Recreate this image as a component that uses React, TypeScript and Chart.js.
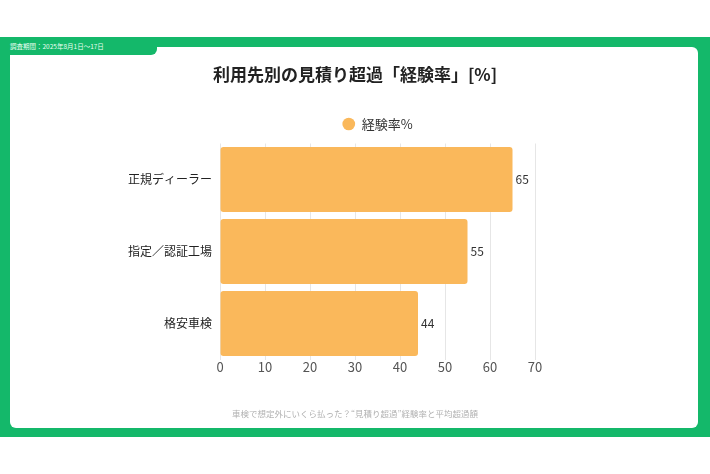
import React, { useEffect, useRef } from "react";
import { Chart, registerables } from "chart.js";

Chart.register(...registerables);

const categories = ["正規ディーラー", "指定／認証工場", "格安車検"];
const experienceRate = [65, 55, 44];
const seriesLabel = "経験率%";
const titleText = "利用先別の見積り超過「経験率」[%]";
const footnoteText = "車検で想定外にいくら払った？“見積り超過”経験率と平均超過額";
const periodText = "調査期間：2025年8月1日〜17日";
const xMin = 0;
const xMax = 70;
const xStep = 10;

const FONT = "'Noto Sans CJK JP', 'Noto Sans', sans-serif";
const GREEN = "#14b86a";
const BAR = "#fab85b";

const valueLabels = {
  id: "valueLabels",
  afterDatasetsDraw(chart: any) {
    const ctx = chart.ctx;
    const meta = chart.getDatasetMeta(0);
    ctx.save();
    ctx.font = `12px ${FONT}`;
    ctx.fillStyle = "#333";
    ctx.textAlign = "left";
    ctx.textBaseline = "middle";
    meta.data.forEach((el: any, i: number) => {
      const v = chart.data.datasets[0].data[i];
      ctx.fillText(String(v), el.x + 3, el.y);
    });
    ctx.restore();
  },
};

export default function App() {
  const ref = useRef<HTMLCanvasElement | null>(null);

  useEffect(() => {
    document.body.style.margin = "0";
    if (!ref.current) return;
    const chart = new Chart(ref.current, {
      type: "bar",
      data: {
        labels: categories,
        datasets: [
          {
            label: seriesLabel,
            data: experienceRate,
            backgroundColor: BAR,
            borderRadius: 3,
            borderSkipped: false,
            categoryPercentage: 1,
            barPercentage: 0.9,
          },
        ],
      },
      options: {
        indexAxis: "y",
        responsive: false,
        animation: false,
        layout: { padding: 0 },
        scales: {
          x: {
            min: xMin,
            max: xMax,
            ticks: {
              stepSize: xStep,
              color: "#555",
              font: { family: FONT, size: 13 },
              padding: 0,
            },
            grid: { color: "#e6e6e6", drawTicks: false },
            border: { display: false },
          },
          xTopSpacer: {
            type: "linear",
            position: "top",
            display: true,
            min: 0,
            max: 1,
            ticks: { display: false },
            grid: { display: false, drawTicks: false },
            border: { display: false },
            afterFit: (s: any) => {
              s.height = 3;
            },
          },
          y: {
            ticks: {
              color: "#222",
              font: { family: FONT, size: 12 },
              padding: 8,
            },
            grid: { display: false, drawTicks: false },
            border: { display: false },
            afterFit: (s: any) => {
              s.width = 220;
            },
          },
          yRightSpacer: {
            type: "linear",
            position: "right",
            display: true,
            min: 0,
            max: 1,
            ticks: { display: false },
            grid: { display: false, drawTicks: false },
            border: { display: false },
            afterFit: (s: any) => {
              s.width = 175;
            },
          },
        },
        plugins: {
          title: {
            display: true,
            text: titleText,
            color: "#222",
            font: { family: FONT, size: 17, weight: "bold" },
            padding: { top: 64.8, bottom: 22.3 },
          },
          legend: {
            display: true,
            fullSize: false,
            labels: {
              usePointStyle: true,
              pointStyle: "circle",
              boxHeight: 9,
              color: "#333",
              font: { family: FONT, size: 13 },
            },
          },
          subtitle: {
            display: true,
            position: "bottom",
            text: footnoteText,
            color: "#b0b0b0",
            font: { family: FONT, size: 8.5 },
            padding: { top: 33.1, bottom: 55.6 },
          },
          tooltip: { enabled: false },
        },
      },
      plugins: [valueLabels],
    });
    return () => chart.destroy();
  }, []);

  return (
    <div style={{ position: "fixed", left: 0, top: 0, width: 710, height: 474, background: "#fff", overflow: "hidden" }}>
      <div style={{ position: "absolute", left: 0, top: 37, width: 710, height: 400, background: GREEN }} />
      <div style={{ position: "absolute", left: 10, top: 47, width: 688, height: 381, background: "#fff", borderRadius: 6 }} />
      <div
        style={{
          position: "absolute",
          left: 0,
          top: 37,
          width: 157,
          height: 18,
          background: GREEN,
          borderBottomRightRadius: 6,
        }}
      />
      <div
        style={{
          position: "absolute",
          left: 10,
          top: 41,
          fontFamily: FONT,
          fontSize: 6.5,
          lineHeight: "10px",
          color: "#eafff2",
          whiteSpace: "nowrap",
        }}
      >
        {periodText}
      </div>
      <canvas ref={ref} width={710} height={474} style={{ position: "absolute", left: 0, top: 0, width: 710, height: 474 }} />
    </div>
  );
}
